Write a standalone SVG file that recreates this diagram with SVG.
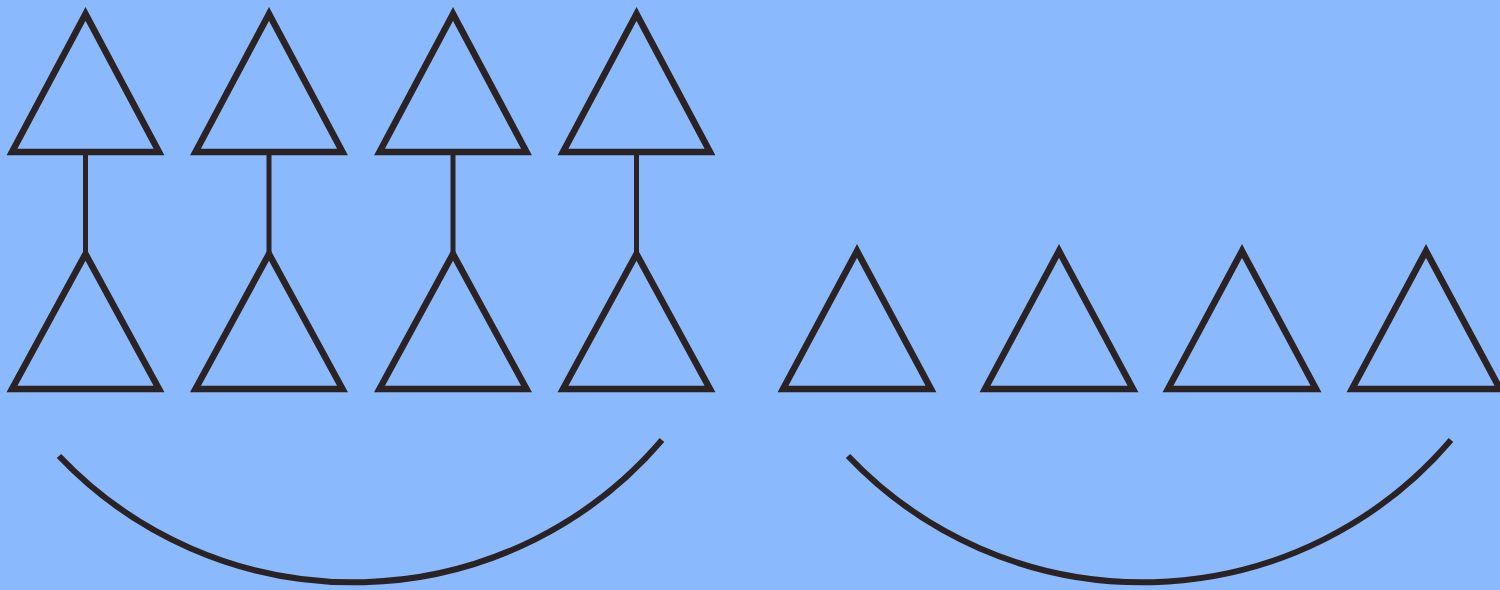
<svg xmlns="http://www.w3.org/2000/svg" width="1500" height="590" viewBox="0 0 1500 590">
<style>
.tri{fill:none;stroke:#2b2323;stroke-width:6.5;stroke-linejoin:miter;stroke-miterlimit:10}
.con{fill:none;stroke:#2b2323;stroke-width:5}
.arc{fill:none;stroke:#2b2323;stroke-width:6}
</style>
<defs>
<polygon id="t" points="0,0 -73.5,138 73.5,138"/>
<polygon id="b" points="0,0 -73.5,135 73.5,135"/>
</defs>
<rect width="1500" height="590" fill="#8bb9fd"/>
<g id="connectors">
<line class="con" x1="85.5" y1="152" x2="85.5" y2="254"/>
<line class="con" x1="269" y1="152" x2="269" y2="254"/>
<line class="con" x1="453" y1="152" x2="453" y2="254"/>
<line class="con" x1="636.5" y1="152" x2="636.5" y2="254"/>
<path class="arc" d="M59 456 A406 406 0 0 0 662 440"/>
<path class="arc" d="M848 456 A406 406 0 0 0 1451 440"/>
</g>
<g id="top1"><use href="#t" class="tri" x="85.5" y="14"/></g>
<g id="top2"><use href="#t" class="tri" x="269" y="14"/></g>
<g id="top3"><use href="#t" class="tri" x="453" y="14"/></g>
<g id="top4"><use href="#t" class="tri" x="636.5" y="14"/></g>
<g id="bot1"><use href="#b" class="tri" x="85.5" y="254"/></g>
<g id="bot2"><use href="#b" class="tri" x="269" y="254"/></g>
<g id="bot3"><use href="#b" class="tri" x="453" y="254"/></g>
<g id="bot4"><use href="#b" class="tri" x="636.5" y="254"/></g>
<g id="r1"><polygon class="tri" points="857,251 783,389 931,389"/></g>
<g id="r2"><polygon class="tri" points="1059,251 985,389 1133,389"/></g>
<g id="r3"><polygon class="tri" points="1242,251 1168,389 1316,389"/></g>
<g id="r4"><polygon class="tri" points="1426,251 1352,389 1500,389"/></g>
</svg>
